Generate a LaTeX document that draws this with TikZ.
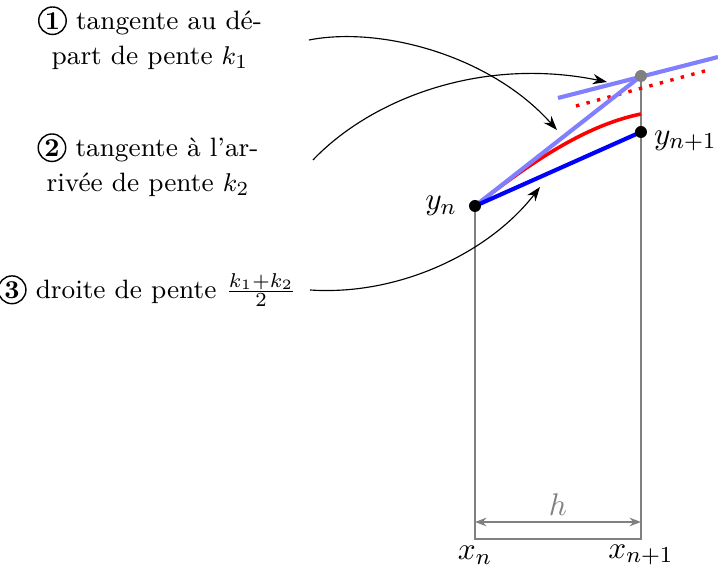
\documentclass[tikz,border=0pt]{standalone}
\usetikzlibrary{arrows.meta}
\definecolor{lblue}{RGB}{128,128,255}
\newcommand\cnum[1]{\tikz[baseline=(cn.base)]\node[circle,draw,line width=0.5pt,inner sep=0.6pt,font=\bfseries\small](cn){#1};}
\begin{document}
\begin{tikzpicture}[x=0.35pt,y=-0.35pt,
  lbl/.style={align=center,font=\fontsize{9.3}{12.4}\selectfont},
  mlbl/.style={font=\fontsize{11}{13}\selectfont},
  dot/.style={circle,fill=black,inner sep=0pt,minimum size=4.2pt},
  guide/.style={draw=gray,line width=0.55pt},
  callout/.style={-{Stealth[length=5pt,width=3.6pt]},line width=0.4pt},
  thick line/.style={line width=1.45pt}]
\useasboundingbox (0,0) rectangle (718,568);
% coordinates
\coordinate (yn) at (475,206);
\coordinate (yn1) at (641,132);
\coordinate (g) at (641,76);
\coordinate (bl) at (475,539);
\coordinate (br) at (641,539);
\coordinate (ha) at (475,522);
\coordinate (hb) at (641,522);
\coordinate (ta) at (558,98);
\coordinate (tb) at (718,57);
\coordinate (ra) at (576,106);
\coordinate (rb) at (712,69);
\coordinate (rc) at (641,114);
% frame
\draw[guide] (yn) -- (bl) -- (br) -- (g);
\draw[gray,line width=0.55pt,{Stealth[length=4pt,width=3pt]}-{Stealth[length=4pt,width=3pt]}] (ha) -- (hb);
\node[mlbl,text=gray] (h) at (558,505) {$h$};
\node[mlbl] (xn) at (475,555) {$x_n$};
\node[mlbl] (xn1) at (641,555) {$x_{n+1}$};
% curves
\draw[red,line width=1.2pt,dash pattern=on 1.2pt off 2.6pt] (ra) -- (rb);
\draw[red,line width=1.25pt] (yn) .. controls (541,154) and (592,124) .. (rc);
\draw[lblue,thick line] (yn) -- (g);
\draw[lblue,thick line] (ta) -- (tb);
\draw[blue,thick line] (yn) -- (yn1);
\node[dot] (pyn) at (yn) {};
\node[dot] (pyn1) at (yn1) {};
\node[dot,fill=gray] (pg) at (g) {};
\node[mlbl,anchor=east] (lyn) at (467,206) {$y_n$};
\node[mlbl,anchor=west] (lyn1) at (644,141) {$y_{n+1}$};
% labels
\node[lbl] (t1) at (150,38) {\cnum{1} tangente au dé-\\part de pente $k_1$};
\node[lbl] (t2) at (148,165) {\cnum{2} tangente à l'ar-\\rivée de pente $k_2$};
\node[lbl] (t3) at (147,290) {\cnum{3} droite de pente $\frac{k_1+k_2}{2}$};
\coordinate (a1s) at (309,40);
\coordinate (a1e) at (557,130);
\coordinate (a2s) at (313,160);
\coordinate (a2e) at (607,82);
\coordinate (a3s) at (310,290);
\coordinate (a3e) at (540,187);
\draw[callout] (a1s) .. controls (380,26) and (490,55) .. (a1e);
\draw[callout] (a2s) .. controls (370,100) and (480,56) .. (a2e);
\draw[callout] (a3s) .. controls (400,296) and (490,252) .. (a3e);
\end{tikzpicture}
\end{document}
